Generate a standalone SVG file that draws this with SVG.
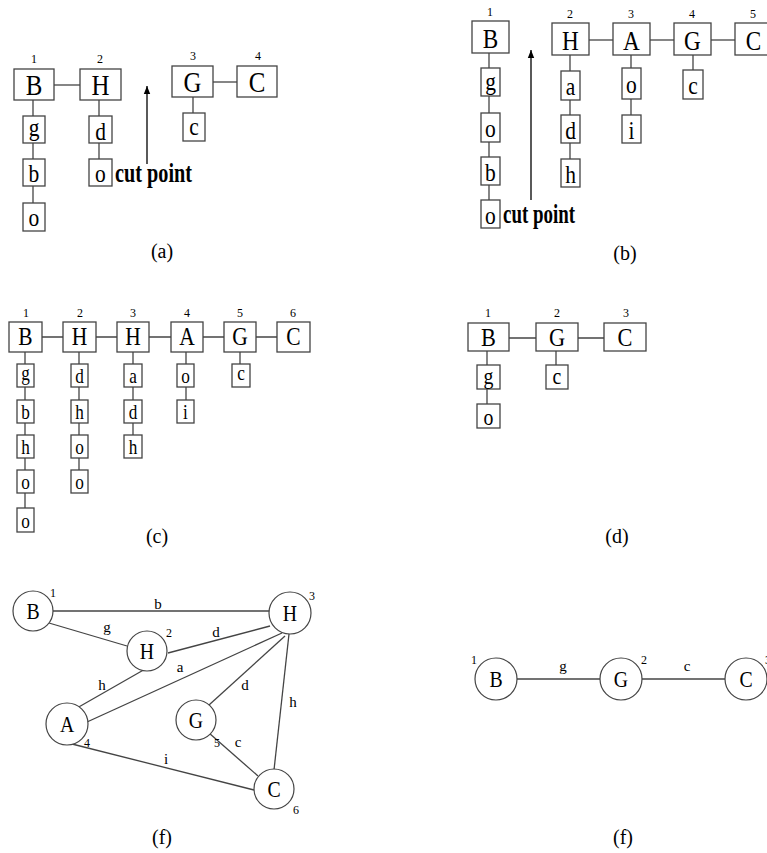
<svg xmlns="http://www.w3.org/2000/svg" width="767" height="853" viewBox="0 0 767 853">
<style>
text{font-family:"Liberation Serif","Times New Roman",serif;fill:#000;text-anchor:middle}
.bx{fill:#fff;stroke:#444;stroke-width:1.3}
.ln{stroke:#444;stroke-width:1.3;fill:none}
.n{font-size:12px}
.m,.s,.mb,.sb,.mc,.sc,.md,.sd,.cn{transform-box:fill-box;transform-origin:center;transform:scaleX(0.86)}
.m{font-size:29px}
.s{font-size:25px}
.mb{font-size:27px}
.sb{font-size:25px}
.mc{font-size:25px}
.sc{font-size:20px}
.md{font-size:26px}
.sd{font-size:23px}
.cap{font-size:20px}
.cut{font-size:27px;font-weight:bold;text-anchor:start}
.el{font-size:15px}
.cn{font-size:23px}
.ci{fill:#fff;stroke:#444;stroke-width:1.2}
</style>
<defs>
<marker id="ah" viewBox="0 0 10 10" refX="10" refY="5" markerWidth="8" markerHeight="8" markerUnits="userSpaceOnUse" orient="auto"><path d="M0,1 L10,5 L0,9 Z" fill="#000"/></marker>
</defs>
<rect width="767" height="853" fill="#fff"/>

<!-- connectors -->
<g id="connectors">
<!-- (a) -->
<line class="ln" x1="54" y1="85" x2="80" y2="85"/>
<line class="ln" x1="33" y1="100" x2="33" y2="203"/>
<line class="ln" x1="99" y1="100" x2="99" y2="159"/>
<line class="ln" x1="213" y1="82" x2="237" y2="82"/>
<line class="ln" x1="193" y1="97" x2="193" y2="113"/>
<line x1="147" y1="164" x2="147" y2="86" stroke="#000" stroke-width="1.3" marker-end="url(#ah)"/>
<!-- (b) -->
<line class="ln" x1="589" y1="40" x2="613" y2="40"/>
<line class="ln" x1="650" y1="40" x2="674" y2="40"/>
<line class="ln" x1="711" y1="40" x2="735" y2="40"/>
<line class="ln" x1="489" y1="53" x2="489" y2="200"/>
<line class="ln" x1="570" y1="55" x2="570" y2="159"/>
<line class="ln" x1="631" y1="55" x2="631" y2="115"/>
<line class="ln" x1="693" y1="55" x2="693" y2="70"/>
<line x1="531" y1="200" x2="531" y2="50" stroke="#000" stroke-width="1.3" marker-end="url(#ah)"/>
<!-- (c) -->
<line class="ln" x1="42" y1="337" x2="277" y2="337"/>
<line class="ln" x1="25" y1="352" x2="25" y2="508"/>
<line class="ln" x1="79" y1="352" x2="79" y2="470"/>
<line class="ln" x1="133" y1="352" x2="133" y2="435"/>
<line class="ln" x1="186" y1="352" x2="186" y2="400"/>
<line class="ln" x1="240" y1="352" x2="240" y2="364"/>
<!-- (d) -->
<line class="ln" x1="509" y1="338" x2="604" y2="338"/>
<line class="ln" x1="487" y1="351" x2="487" y2="404"/>
<line class="ln" x1="556" y1="351" x2="556" y2="365"/>
<!-- (f) left -->
<line class="ln" x1="53" y1="611" x2="270" y2="611"/>
<line class="ln" x1="49" y1="623" x2="127" y2="646"/>
<line class="ln" x1="168" y1="653" x2="270" y2="626"/>
<line class="ln" x1="147" y1="668" x2="77" y2="708"/>
<line class="ln" x1="87" y1="722" x2="282" y2="633"/>
<line class="ln" x1="209" y1="705" x2="285" y2="636"/>
<line class="ln" x1="289" y1="634" x2="274" y2="770"/>
<line class="ln" x1="209" y1="733" x2="258" y2="776"/>
<line class="ln" x1="72" y1="744" x2="254" y2="790"/>
<!-- (f) right -->
<line class="ln" x1="517" y1="679" x2="600" y2="679"/>
<line class="ln" x1="642" y1="679" x2="725" y2="679"/>
</g>

<!-- panel (a) -->
<g id="a-B"><text class="n" x="34" y="63">1</text><rect class="bx" x="14" y="69" width="40" height="31"/><text class="m" x="34" y="95">B</text></g>
<g id="a-H"><text class="n" x="100" y="63">2</text><rect class="bx" x="80" y="69" width="41" height="31"/><text class="m" x="100.5" y="95">H</text></g>
<g id="a-G"><text class="n" x="193" y="60">3</text><rect class="bx" x="172" y="66" width="41" height="31"/><text class="m" x="192.5" y="92">G</text></g>
<g id="a-C"><text class="n" x="258" y="60">4</text><rect class="bx" x="237" y="66" width="40" height="31"/><text class="m" x="257" y="92">C</text></g>
<g id="a-B-g"><rect class="bx" x="23" y="116" width="22" height="27"/><text class="s" x="34" y="136">g</text></g>
<g id="a-B-b"><rect class="bx" x="23" y="159" width="22" height="27"/><text class="s" x="34" y="182">b</text></g>
<g id="a-B-o"><rect class="bx" x="23" y="203" width="22" height="28"/><text class="s" x="34" y="226">o</text></g>
<g id="a-H-d"><rect class="bx" x="89" y="116" width="23" height="27"/><text class="s" x="100.5" y="140">d</text></g>
<g id="a-H-o"><rect class="bx" x="89" y="159" width="23" height="27"/><text class="s" x="100.5" y="182">o</text></g>
<g id="a-G-c"><rect class="bx" x="183" y="113" width="22" height="28"/><text class="s" x="194" y="135">c</text></g>
<text class="cut" x="115" y="182" textLength="77" lengthAdjust="spacingAndGlyphs">cut point</text>
<text class="cap" x="162" y="258">(a)</text>

<!-- panel (b) -->
<g id="b-B"><text class="n" x="490" y="16">1</text><rect class="bx" x="472" y="21" width="37" height="32"/><text class="mb" x="490.5" y="48">B</text></g>
<g id="b-H"><text class="n" x="570" y="18">2</text><rect class="bx" x="552" y="23" width="37" height="32"/><text class="mb" x="570.5" y="50">H</text></g>
<g id="b-A"><text class="n" x="631" y="18">3</text><rect class="bx" x="613" y="23" width="37" height="32"/><text class="mb" x="631.5" y="50">A</text></g>
<g id="b-G"><text class="n" x="692" y="18">4</text><rect class="bx" x="674" y="23" width="37" height="32"/><text class="mb" x="692.5" y="50">G</text></g>
<g id="b-C"><text class="n" x="753" y="18">5</text><rect class="bx" x="735" y="23" width="37" height="32"/><text class="mb" x="753.5" y="50">C</text></g>
<g id="b-B-g"><rect class="bx" x="481" y="68" width="19" height="28"/><text class="sb" x="490.5" y="90">g</text></g>
<g id="b-B-o1"><rect class="bx" x="481" y="113" width="19" height="29"/><text class="sb" x="490.5" y="137">o</text></g>
<g id="b-B-b"><rect class="bx" x="481" y="157" width="19" height="28"/><text class="sb" x="490.5" y="181">b</text></g>
<g id="b-B-o2"><rect class="bx" x="481" y="200" width="19" height="28"/><text class="sb" x="490.5" y="224">o</text></g>
<g id="b-H-a"><rect class="bx" x="561" y="71" width="19" height="29"/><text class="sb" x="570.5" y="95">a</text></g>
<g id="b-H-d"><rect class="bx" x="561" y="115" width="19" height="28"/><text class="sb" x="570.5" y="139">d</text></g>
<g id="b-H-h"><rect class="bx" x="561" y="159" width="19" height="28"/><text class="sb" x="570.5" y="183">h</text></g>
<g id="b-A-o"><rect class="bx" x="622" y="68" width="19" height="31"/><text class="sb" x="631.5" y="93">o</text></g>
<g id="b-A-i"><rect class="bx" x="622" y="115" width="19" height="28"/><text class="sb" x="631.5" y="139">i</text></g>
<g id="b-G-c"><rect class="bx" x="683" y="70" width="20" height="29"/><text class="sb" x="693" y="94">c</text></g>
<text class="cut" x="503" y="223" textLength="72" lengthAdjust="spacingAndGlyphs">cut point</text>
<text class="cap" x="625" y="260">(b)</text>

<!-- panel (c) -->
<g id="c-B"><text class="n" x="26" y="317">1</text><rect class="bx" x="9" y="322" width="33" height="30"/><text class="mc" x="25.5" y="345">B</text></g>
<g id="c-H1"><text class="n" x="80" y="317">2</text><rect class="bx" x="63" y="322" width="33" height="30"/><text class="mc" x="79.5" y="345">H</text></g>
<g id="c-H2"><text class="n" x="133" y="317">3</text><rect class="bx" x="117" y="322" width="32" height="30"/><text class="mc" x="133" y="345">H</text></g>
<g id="c-A"><text class="n" x="187" y="317">4</text><rect class="bx" x="171" y="322" width="32" height="30"/><text class="mc" x="187" y="345">A</text></g>
<g id="c-G"><text class="n" x="240" y="317">5</text><rect class="bx" x="224" y="322" width="32" height="30"/><text class="mc" x="240" y="345">G</text></g>
<g id="c-C"><text class="n" x="293" y="317">6</text><rect class="bx" x="277" y="322" width="33" height="30"/><text class="mc" x="293.5" y="345">C</text></g>
<g id="c-B-1"><rect class="bx" x="17" y="364" width="17" height="23"/><text class="sc" x="25.5" y="380">g</text></g>
<g id="c-B-2"><rect class="bx" x="17" y="400" width="17" height="23"/><text class="sc" x="25.5" y="419">b</text></g>
<g id="c-B-3"><rect class="bx" x="17" y="435" width="17" height="23"/><text class="sc" x="25.5" y="454">h</text></g>
<g id="c-B-4"><rect class="bx" x="17" y="470" width="17" height="23"/><text class="sc" x="25.5" y="489">o</text></g>
<g id="c-B-5"><rect class="bx" x="17" y="508" width="17" height="24"/><text class="sc" x="25.5" y="528">o</text></g>
<g id="c-H1-1"><rect class="bx" x="71" y="364" width="17" height="23"/><text class="sc" x="79.5" y="383">d</text></g>
<g id="c-H1-2"><rect class="bx" x="71" y="400" width="17" height="23"/><text class="sc" x="79.5" y="419">h</text></g>
<g id="c-H1-3"><rect class="bx" x="71" y="435" width="17" height="23"/><text class="sc" x="79.5" y="454">o</text></g>
<g id="c-H1-4"><rect class="bx" x="71" y="470" width="17" height="23"/><text class="sc" x="79.5" y="489">o</text></g>
<g id="c-H2-1"><rect class="bx" x="124" y="364" width="18" height="23"/><text class="sc" x="133" y="383">a</text></g>
<g id="c-H2-2"><rect class="bx" x="124" y="400" width="18" height="23"/><text class="sc" x="133" y="419">d</text></g>
<g id="c-H2-3"><rect class="bx" x="124" y="435" width="18" height="23"/><text class="sc" x="133" y="454">h</text></g>
<g id="c-A-1"><rect class="bx" x="177" y="364" width="17" height="23"/><text class="sc" x="185.5" y="383">o</text></g>
<g id="c-A-2"><rect class="bx" x="177" y="400" width="17" height="23"/><text class="sc" x="185.5" y="419">i</text></g>
<g id="c-G-1"><rect class="bx" x="232" y="364" width="18" height="23"/><text class="sc" x="241" y="380">c</text></g>
<text class="cap" x="157" y="543">(c)</text>

<!-- panel (d) -->
<g id="d-B"><text class="n" x="488" y="317">1</text><rect class="bx" x="468" y="323" width="41" height="28"/><text class="md" x="488.5" y="346">B</text></g>
<g id="d-G"><text class="n" x="557" y="317">2</text><rect class="bx" x="536" y="323" width="42" height="28"/><text class="md" x="557" y="346">G</text></g>
<g id="d-C"><text class="n" x="626" y="317">3</text><rect class="bx" x="604" y="323" width="42" height="28"/><text class="md" x="625" y="346">C</text></g>
<g id="d-B-g"><rect class="bx" x="477" y="365" width="23" height="24"/><text class="sd" x="488.5" y="384">g</text></g>
<g id="d-B-o"><rect class="bx" x="477" y="404" width="23" height="24"/><text class="sd" x="488.5" y="425">o</text></g>
<g id="d-G-c"><rect class="bx" x="546" y="365" width="22" height="24"/><text class="sd" x="557" y="384">c</text></g>
<text class="cap" x="617" y="543">(d)</text>

<!-- panel (f) left -->
<g id="f1-B"><circle class="ci" cx="33" cy="611" r="20"/><text class="cn" x="33" y="619">B</text><text class="n" x="53" y="597">1</text></g>
<g id="f1-H2"><circle class="ci" cx="147" cy="651" r="20"/><text class="cn" x="147" y="659">H</text><text class="n" x="169" y="637">2</text></g>
<g id="f1-H3"><circle class="ci" cx="290" cy="613" r="21"/><text class="cn" x="290" y="621">H</text><text class="n" x="312" y="600">3</text></g>
<g id="f1-A"><circle class="ci" cx="67" cy="724" r="21"/><text class="cn" x="67" y="732">A</text><text class="n" x="87" y="747">4</text></g>
<g id="f1-G"><circle class="ci" cx="196" cy="720" r="20"/><text class="cn" x="196" y="728">G</text><text class="n" x="217" y="747">5</text></g>
<g id="f1-C"><circle class="ci" cx="274" cy="789" r="20"/><text class="cn" x="274" y="797">C</text><text class="n" x="296" y="814">6</text></g>
<g id="f1-labels">
<text class="el" x="158" y="609">b</text>
<text class="el" x="107" y="632">g</text>
<text class="el" x="216" y="637">d</text>
<text class="el" x="102" y="690">h</text>
<text class="el" x="180" y="672">a</text>
<text class="el" x="245" y="690">d</text>
<text class="el" x="293" y="707">h</text>
<text class="el" x="238" y="747">c</text>
<text class="el" x="166" y="764">i</text>
</g>
<text class="cap" x="162" y="844">(f)</text>

<!-- panel (f) right -->
<g id="f2-B"><circle class="ci" cx="496" cy="679" r="21"/><text class="cn" x="496" y="687">B</text><text class="n" x="474" y="664">1</text></g>
<g id="f2-G"><circle class="ci" cx="621" cy="679" r="21"/><text class="cn" x="621" y="687">G</text><text class="n" x="644" y="664">2</text></g>
<g id="f2-C"><circle class="ci" cx="746" cy="679" r="21"/><text class="cn" x="746" y="687">C</text><text class="n" x="768" y="664">3</text></g>
<text class="el" x="563" y="671">g</text>
<text class="el" x="687" y="671">c</text>
<text class="cap" x="623" y="844">(f)</text>
</svg>
